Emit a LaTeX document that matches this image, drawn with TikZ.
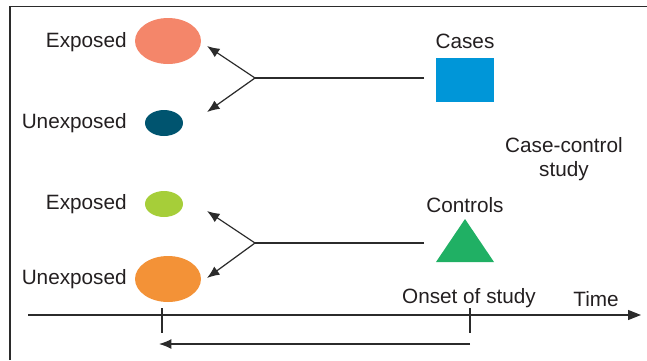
\documentclass[tikz,border=0pt]{standalone}
\usepackage{fontspec}
\setmainfont{Liberation Sans}
\usetikzlibrary{arrows.meta,shapes.geometric}
\definecolor{salmon}{HTML}{F4866A}
\definecolor{deepteal}{HTML}{00546F}
\definecolor{limegreen}{HTML}{A6CE39}
\definecolor{warmorange}{HTML}{F39237}
\definecolor{caseblue}{HTML}{0096D8}
\definecolor{ctrlgreen}{HTML}{20B064}
\definecolor{linegray}{HTML}{2B2B2B}
\definecolor{textgray}{HTML}{231F20}
\tikzset{
big/.style={ellipse,inner sep=0pt,minimum width=1.32cm,minimum height=0.92cm},
small/.style={ellipse,inner sep=0pt,minimum width=0.76cm,minimum height=0.52cm},
tag/.style={text=textgray,inner sep=0pt,font=\fontsize{11.8}{13.1}\selectfont},
link/.style={line width=0.7pt,draw=linegray},
pointer/.style={link,-{Latex[length=2.5mm,width=2mm]}},
axis/.style={link,-{Triangle[length=2.6mm,width=2mm]}}
}
\begin{document}
\begin{tikzpicture}[x=0.02cm,y=-0.02cm]
\useasboundingbox (0,0) rectangle (647,360);
\draw[line width=1.1pt,draw=linegray](10,360)--(10,6.5)--(647,6.5);
% case group
\node[big,fill=salmon](caseexp) at (168,41){};
\node[small,fill=deepteal](caseunexp) at (164,123){};
\node[tag,anchor=base east] at (127,47){Exposed};
\node[tag,anchor=base east] at (127,128){Unexposed};
\node[fill=caseblue,inner sep=0pt,minimum width=1.16cm,minimum height=0.88cm](cases) at (465,80){};
\node[tag,anchor=base] at (465,48){Cases};
\coordinate (casefork) at (255,78);\coordinate (caseend) at (424,78);
\coordinate (casetipa) at (207,46);\coordinate (casetipb) at (207,112);
\draw[link](caseend)--(casefork);
\draw[pointer](casefork)--(casetipa);\draw[pointer](casefork)--(casetipb);
\node[tag,align=center,anchor=base](design) at (564,176){Case-control\\study};
% control group
\node[small,fill=limegreen](ctrlexp) at (164,204){};
\node[big,fill=warmorange](ctrlunexp) at (168,279){};
\node[tag,anchor=base east] at (127,209){Exposed};
\node[tag,anchor=base east] at (127,284){Unexposed};
\coordinate (ctrltop) at (465,219);
\fill[ctrlgreen](436,262)--(ctrltop)--(494,262)--cycle;
\node[tag,anchor=base](controls) at (465,212){Controls};
\coordinate (ctrlfork) at (255,243);\coordinate (ctrlend) at (424,243);
\coordinate (ctrltipa) at (207,211);\coordinate (ctrltipb) at (207,278);
\draw[link](ctrlend)--(ctrlfork);
\draw[pointer](ctrlfork)--(ctrltipa);\draw[pointer](ctrlfork)--(ctrltipb);
% time line
\coordinate (tstart) at (28,315);\coordinate (tend) at (641,315);
\draw[axis](tstart)--(tend);
\coordinate (ticka) at (162,308);\coordinate (tickab) at (162,333);
\coordinate (tickb) at (470,308);\coordinate (tickbb) at (470,333);
\draw[link](ticka)--(tickab);\draw[link](tickb)--(tickbb);
\node[tag,anchor=base](onset) at (469,303){Onset of study};
\node[tag,anchor=base](time) at (596,306){Time};
\coordinate (backstart) at (470,344);\coordinate (backend) at (159,344);
\draw[pointer](backstart)--(backend);
\end{tikzpicture}
\end{document}
